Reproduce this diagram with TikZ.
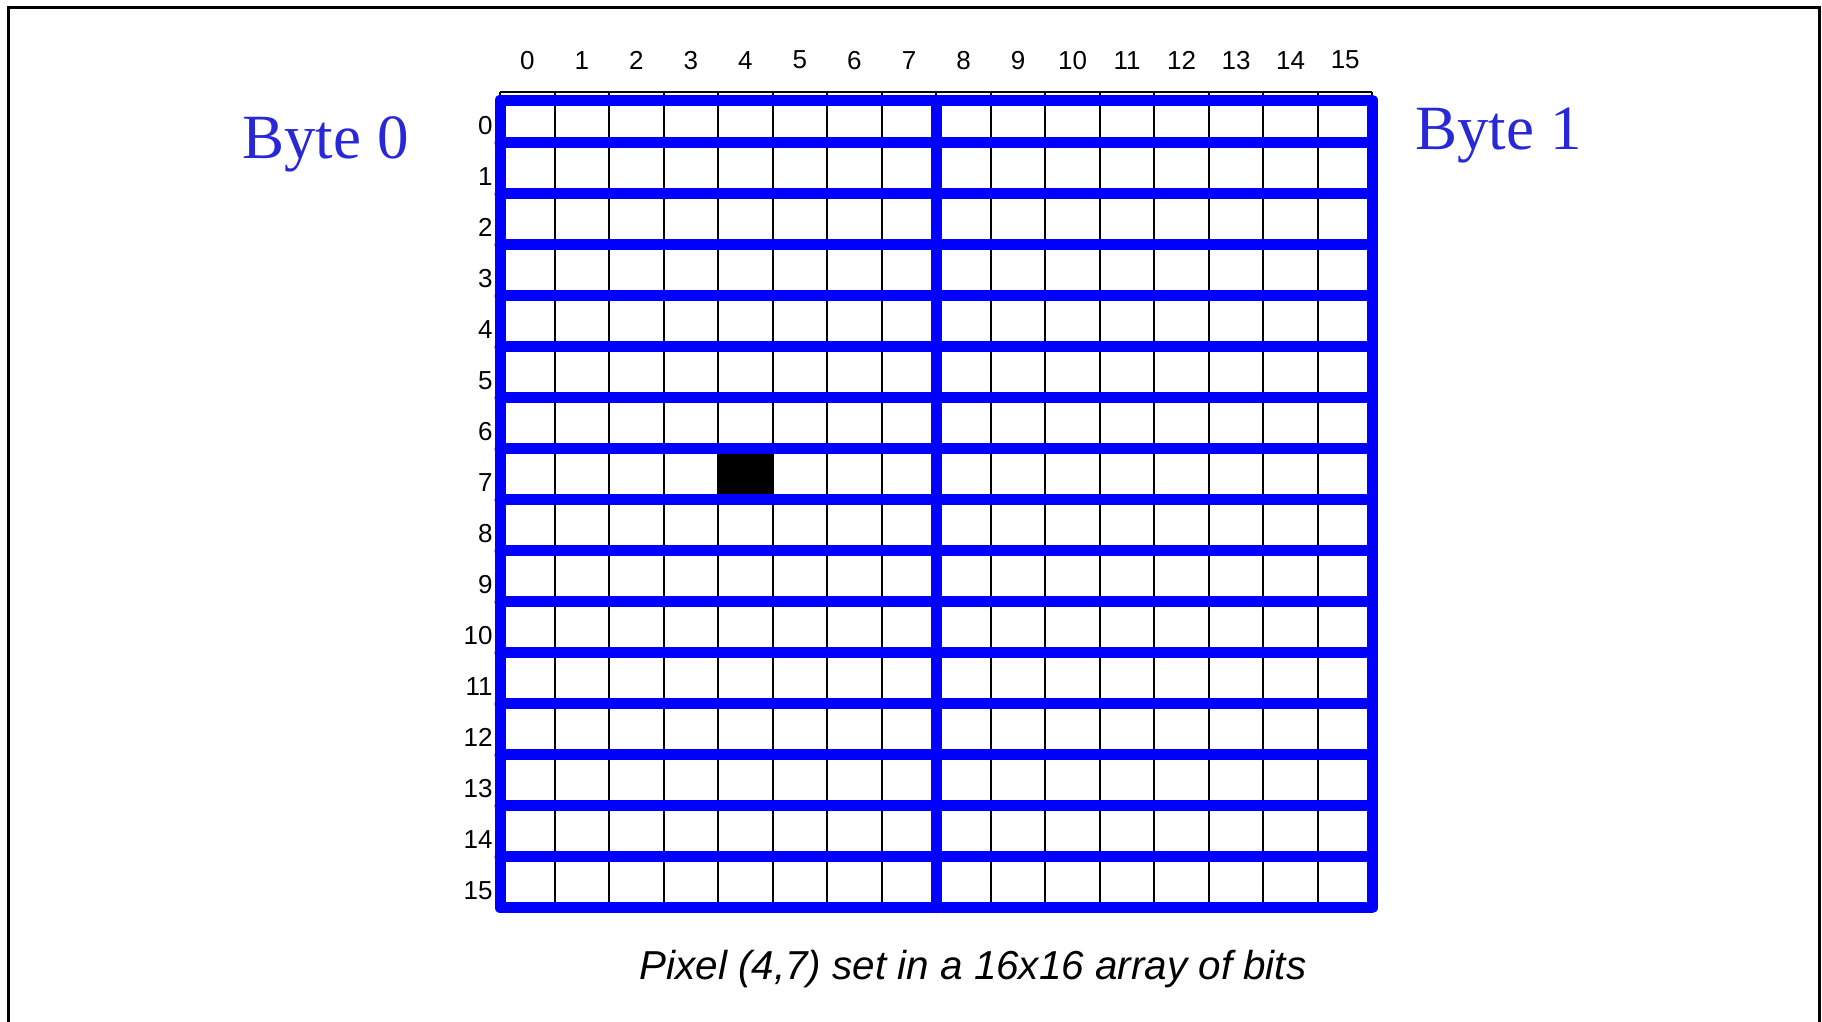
\documentclass[tikz,border=0pt]{standalone}
\usepackage{fontspec}
\setmainfont{Liberation Serif}
\setsansfont{Liberation Sans}
\definecolor{bytetext}{RGB}{40,40,215}
\tikzset{
  cellline/.style={line width=1pt, black},
  byteline/.style={line width=5.5pt, blue, line cap=round, line join=round},
  idx/.style={font=\sffamily\fontsize{13}{13}\selectfont, inner sep=0pt},
  bytelabel/.style={font=\fontsize{31.5}{32}\selectfont, text=bytetext, inner sep=0pt, anchor=base west}
}
\begin{document}
\begin{tikzpicture}[x=0.5pt,y=-0.5pt]
\useasboundingbox (0,0) rectangle (1822,1022);
\draw[line width=1.5pt] (8,1022) -- (8,8) -- (1819,8) -- (1819,1022);
\begin{scope}[shift={(500,91.7)}, x=27.265pt, y=-25.5pt]
% pixel (4,7)
\fill (4,7) rectangle (5,8);
% the 16x16 bits
\foreach \i in {0,...,16} {
  \draw[cellline] (\i,0) -- (\i,16);
  \draw[cellline] (0,\i) -- (16,\i);
}
% bytes of each row
\draw[byteline] (0,0.163) rectangle (16,16);
\draw[byteline] (8,0.163) -- (8,16);
\foreach \i in {1,...,15}
  \draw[byteline] (0,\i) -- (16,\i);
% indices
\foreach \i in {0,...,15} {
  \node[idx] (c\i) at (\i+0.5,-0.62) {\i};
  \node[idx, anchor=east] (r\i) at (-0.13,\i+0.66) {\i};
}
\end{scope}
\node[bytelabel] (byte0) at (242,159) {Byte 0};
\node[bytelabel] (byte1) at (1415,150) {Byte 1};
\node[font=\sffamily\itshape\fontsize{20.2}{21}\selectfont, inner sep=0pt, anchor=base] (caption) at (973,979) {Pixel (4,7) set in a 16x16 array of bits};
\end{tikzpicture}
\end{document}
